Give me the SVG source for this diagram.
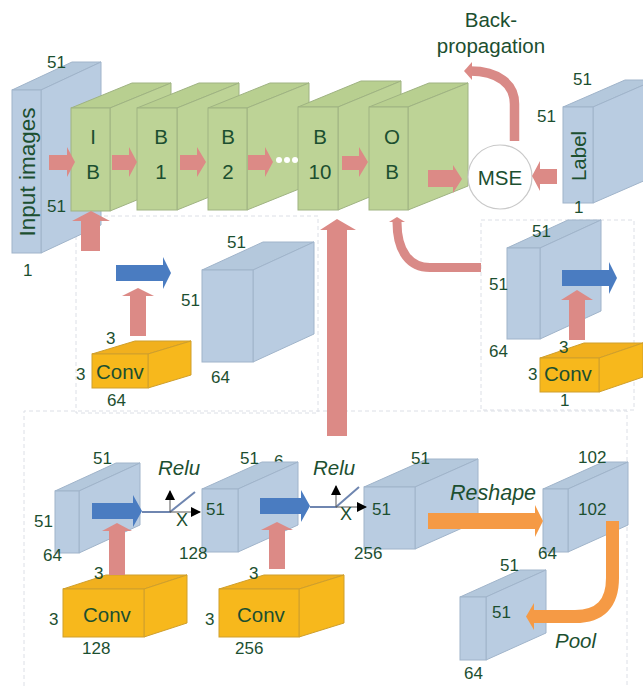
<svg xmlns="http://www.w3.org/2000/svg" width="643" height="686" viewBox="0 0 643 686">
<style>
text{font-family:"Liberation Sans",Arial,sans-serif;fill:#1c4f30;font-size:17px}
.big{font-size:20.5px}
.mid{text-anchor:middle}
.it{font-style:italic;font-size:20.5px}
.bl{fill:#b9cce1;stroke:#a0b4ca;stroke-width:1}
.blt{fill:#b4c8dc;stroke:#a0b4ca;stroke-width:1}
.gr{fill:#bdd396;stroke:#9fb382;stroke-width:1}
.grt{fill:#b8cf90;stroke:#9fb382;stroke-width:1}
.ye{fill:#f7b81c;stroke:#cf9f2c;stroke-width:1}
.yet{fill:#f1b01e;stroke:#cf9f2c;stroke-width:1}
.dash{fill:none;stroke:#dcdfe6;stroke-width:1;stroke-dasharray:4 3}
.pk{fill:#dc8a86}
.pks{fill:none;stroke:#d98a87}
.bu{fill:#4a7cc1}
.or{fill:#f59a45}
.ors{fill:none;stroke:#f59a45}
.ln{fill:none;stroke:#6f86b0;stroke-width:2}
.ax{fill:none;stroke:#555;stroke-width:1}
</style>
<defs>
<marker id="blk" markerWidth="10" markerHeight="10" refX="9" refY="5" orient="auto" markerUnits="userSpaceOnUse"><path d="M0 0L10 5L0 10Z" fill="#000"/></marker>
</defs>

<g id="frames">
<rect class="dash" x="76" y="216" width="242" height="197"/>
<rect class="dash" x="481" y="220" width="153" height="190"/>
<path class="dash" d="M24 686V411H627V686"/>
</g>

<g id="input-images">
<polygon class="blt" points="12,90 41,90 101,62 72,62"/>
<polygon class="bl" points="41,90 101,62 101,225 41,253"/>
<rect class="bl" x="12" y="90" width="29" height="163"/>
<text class="mid" transform="translate(35 172) rotate(-90)" style="font-size:22.5px">Input images</text>
<text x="47" y="68">51</text><text x="47" y="212">51</text><text x="23" y="276">1</text>
</g>

<g id="ib">
<polygon class="grt" points="71,108 110,108 171,83 132,83"/>
<polygon class="gr" points="110,108 171,83 171,186 110,211"/>
<rect class="gr" x="71" y="108" width="39" height="103"/>
<text class="big mid" x="93" y="144">I</text><text class="big mid" x="93" y="179">B</text>
</g>
<g id="b1">
<polygon class="grt" points="137,108 177,108 239,83 199,83"/>
<polygon class="gr" points="177,108 239,83 239,185 177,210"/>
<rect class="gr" x="137" y="108" width="40" height="102"/>
<text class="big mid" x="161" y="144">B</text><text class="big mid" x="161" y="179">1</text>
</g>
<g id="b2">
<polygon class="grt" points="208,108 247,108 309,83 270,83"/>
<polygon class="gr" points="247,108 309,83 309,185 247,210"/>
<rect class="gr" x="208" y="108" width="39" height="102"/>
<text class="big mid" x="228" y="144">B</text><text class="big mid" x="228" y="179">2</text>
</g>
<g id="b10">
<polygon class="grt" points="298,107 338,107 401,81 361,81"/>
<polygon class="gr" points="338,107 401,81 401,184 338,210"/>
<rect class="gr" x="298" y="107" width="40" height="103"/>
<text class="big mid" x="320" y="144">B</text><text class="big mid" x="320" y="179">10</text>
</g>
<g id="ob">
<polygon class="grt" points="369,107 408,107 468,83 429,83"/>
<polygon class="gr" points="408,107 468,83 468,186 408,210"/>
<rect class="gr" x="369" y="107" width="39" height="103"/>
<text class="big mid" x="392" y="144">O</text><text class="big mid" x="392" y="179">B</text>
</g>

<g id="mse">
<circle cx="500" cy="177" r="32" fill="#fff" stroke="#c9c9c9" stroke-width="1.2"/>
<text class="big mid" x="500" y="185">MSE</text>
</g>
<g id="backprop-label">
<text class="big mid" x="491" y="27">Back-</text><text class="big mid" x="491" y="53">propagation</text>
</g>

<g id="label">
<polygon class="blt" points="563,107 593,107 655,80 625,80"/>
<polygon class="bl" points="593,107 655,80 655,176 593,203"/>
<rect class="bl" x="563" y="107" width="30" height="96"/>
<text class="big mid" transform="translate(586 156) rotate(-90)">Label</text>
<text x="573" y="85">51</text><text x="537" y="122">51</text><text x="574" y="213">1</text>
</g>

<g id="left-feature">
<polygon class="blt" points="202,270 253,270 314,242 263,242"/>
<polygon class="bl" points="253,270 314,242 314,334 253,362"/>
<rect class="bl" x="202" y="270" width="51" height="92"/>
<text x="227" y="248">51</text><text x="181" y="306">51</text><text x="211" y="383">64</text>
</g>
<g id="left-conv">
<polygon class="yet" points="92,354 148,354 191,341 135,341"/>
<polygon class="ye" points="148,354 191,341 191,375 148,388"/>
<rect class="ye" x="92" y="354" width="56" height="34"/>
<text class="big" x="96" y="379">Conv</text>
<text x="106" y="344">3</text><text x="76" y="380">3</text><text x="107" y="406">64</text>
</g>

<g id="right-feature">
<polygon class="blt" points="507,248 540,248 601,220 568,220"/>
<polygon class="bl" points="540,248 601,220 601,311 540,339"/>
<rect class="bl" x="507" y="248" width="33" height="91"/>
<text x="532" y="237">51</text><text x="489" y="290">51</text><text x="489" y="357">64</text>
</g>
<g id="right-conv">
<polygon class="yet" points="540,358 599,358 643,343 584,343"/>
<polygon class="ye" points="599,358 643,343 643,377 599,392"/>
<rect class="ye" x="540" y="358" width="59" height="34"/>
<text class="big" x="544" y="381">Conv</text>
<text x="559" y="353">3</text><text x="528" y="380">3</text><text x="560" y="406">1</text>
</g>

<g id="feature-64">
<polygon class="blt" points="55,491 79,491 140,463 116,463"/>
<polygon class="bl" points="79,491 140,463 140,525 79,553"/>
<rect class="bl" x="55" y="491" width="24" height="62"/>
<text x="93" y="464">51</text><text x="34" y="527">51</text><text x="43" y="561">64</text>
</g>
<g id="conv-128">
<polygon class="yet" points="63,589 144,589 187,575 106,575"/>
<polygon class="ye" points="144,589 187,575 187,623 144,637"/>
<rect class="ye" x="63" y="589" width="81" height="48"/>
<text class="big" x="83" y="622">Conv</text>
<text x="94" y="579">3</text><text x="49" y="625">3</text><text x="82" y="654">128</text>
</g>
<g id="feature-128">
<text x="274" y="467">6</text>
<polygon class="blt" points="202,489 238,489 298,462 262,462"/>
<polygon class="bl" points="238,489 298,462 298,525 238,552"/>
<rect class="bl" x="202" y="489" width="36" height="63"/>
<text x="206" y="515">51</text><text x="240" y="464">51</text><text x="179" y="559">128</text>
</g>
<g id="conv-256">
<polygon class="yet" points="219,589 299,589 344,575 264,575"/>
<polygon class="ye" points="299,589 344,575 344,623 299,637"/>
<rect class="ye" x="219" y="589" width="80" height="48"/>
<text class="big" x="237" y="622">Conv</text>
<text x="249" y="579">3</text><text x="205" y="625">3</text><text x="235" y="654">256</text>
</g>
<g id="feature-256">
<polygon class="blt" points="364,487 415,487 478,459 427,459"/>
<polygon class="bl" points="415,487 478,459 478,521 415,549"/>
<rect class="bl" x="364" y="487" width="51" height="62"/>
<text x="372" y="515">51</text><text x="411" y="464">51</text><text x="354" y="559">256</text>
</g>
<g id="feature-102">
<polygon class="blt" points="543,489 568,489 628,462 603,462"/>
<polygon class="bl" points="568,489 628,462 628,525 568,552"/>
<rect class="bl" x="543" y="489" width="25" height="63"/>
<text x="578" y="463">102</text><text x="578" y="515">102</text><text x="538" y="559">64</text>
</g>
<g id="feature-pool">
<polygon class="blt" points="460,597 486,597 546,570 520,570"/>
<polygon class="bl" points="486,597 546,570 546,633 486,660"/>
<rect class="bl" x="460" y="597" width="26" height="63"/>
<text x="500" y="571">51</text><text x="492" y="618">51</text><text x="464" y="679">64</text>
</g>

<g id="connectors">
<polygon class="pk" points="49,155 67,155 67,147 75,162 67,177 67,170 49,170"/>
<polygon class="pk" points="112,155 129,155 129,147 137,162 129,177 129,170 112,170"/>
<polygon class="pk" points="180,155 197,155 197,147 206,162 197,177 197,170 180,170"/>
<polygon class="pk" points="248,155 265,155 265,147 273,162 265,177 265,170 248,170"/>
<polygon class="pk" points="342,156 359,156 359,147 368,162 359,177 359,170 342,170"/>
<polygon class="pk" points="428,170 453,170 453,165 462,179 453,193 453,187 428,187"/>
<polygon class="pk" points="557,169 540,169 540,161 532,176 540,191 540,184 557,184"/>
<g fill="#fff"><circle cx="279" cy="160" r="3"/><circle cx="287" cy="160" r="3"/><circle cx="295" cy="160" r="3"/></g>
<polygon class="pk" points="81,251 81,221 72,221 91,211 110,221 100,221 100,251"/>
<polygon class="pk" points="327,436 327,230 320,230 337,219 356,230 347,230 347,436"/>
<path class="pks" stroke-width="9.500" d="M514.500 141V104C514.500 84 498 71 470 71"/>
<polygon class="pk" points="472,62 464,71 472,80"/>
<path class="pks" stroke-width="9" d="M481 267.500H430C410 267.500 397 252 397 222"/>
<polygon class="pk" points="389,222 397,217 405,222"/>
<polygon class="pk" points="130,336 130,296 122,296 138,288 154,296 146,296 146,336"/>
<polygon class="bu" points="116,265 163,265 163,257 171,273 163,289 163,281 116,281"/>
<polygon class="pk" points="569,340 569,300 561,300 577,290 593,300 585,300 585,340"/>
<polygon class="bu" points="562,270 609,270 609,262 617,278 609,294 609,286 562,286"/>
<path class="ln" d="M142 512H170L195 492"/>
<path class="ax" d="M170 512V491" marker-end="url(#blk)"/>
<path class="ax" d="M170 512H200" marker-end="url(#blk)"/>
<text class="it" x="158" y="475">Relu</text>
<text x="176" y="526" style="font-size:18px">X</text>
<polygon class="bu" points="92,503 133,503 133,495 142,511 133,527 133,519 92,519"/>
<polygon class="pk" points="109,575 109,531 102,531 117,523 132,531 125,531 125,575"/>
<path class="ln" d="M310 507H336L359 487"/>
<path class="ax" d="M336 507V486" marker-end="url(#blk)"/>
<path class="ax" d="M336 507H366" marker-end="url(#blk)"/>
<text class="it" x="313" y="475">Relu</text>
<text x="340" y="520" style="font-size:18px">X</text>
<polygon class="bu" points="260,498 301,498 301,490 310,506 301,522 301,514 260,514"/>
<polygon class="pk" points="269,569 269,530 261,530 277,522 293,530 285,530 285,569"/>
<polygon class="or" points="428,513 535,513 535,505 543,521 535,537 535,529 428,529"/>
<text class="it" x="450" y="500" style="font-size:21.500px">Reshape</text>
<path class="ors" stroke-width="13" d="M612.500 521V578Q612.500 616.500 575 616.500H532"/>
<polygon class="or" points="534,603 526,616.500 534,630"/>
<text class="it" x="555" y="648">Pool</text>
</g>
</svg>
